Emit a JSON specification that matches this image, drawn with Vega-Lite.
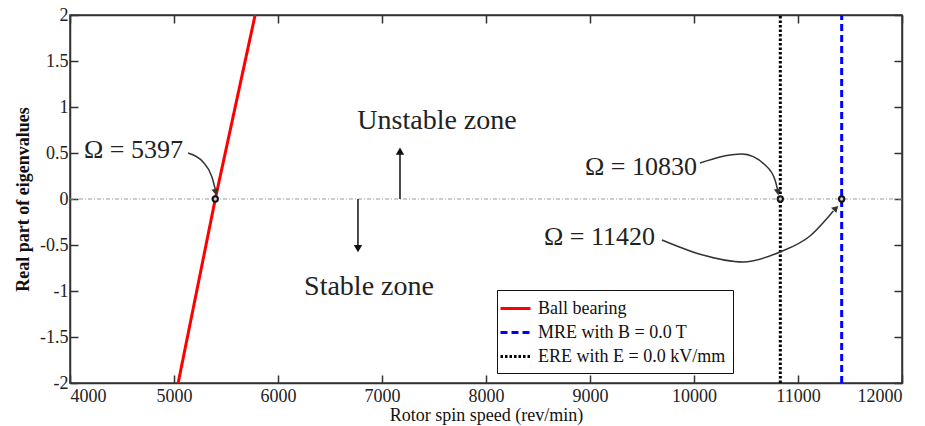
{
  "$schema": "https://vega.github.io/schema/vega-lite/v6.json",
  "width": 832,
  "height": 368,
  "autosize": "none",
  "padding": {"left": 70, "top": 15, "right": 23, "bottom": 43},
  "background": "white",
  "config": {
    "view": {"stroke": "#333", "strokeWidth": 1.5},
    "font": "Liberation Serif",
    "axis": {
      "grid": false,
      "domainColor": "#333",
      "domainWidth": 1.5,
      "tickColor": "#333",
      "tickWidth": 1.5,
      "tickSize": -8,
      "labelFont": "Liberation Serif",
      "labelFontSize": 18,
      "labelColor": "#222",
      "labelOverlap": false,
      "titleFont": "Liberation Serif",
      "titleFontSize": 18,
      "titleColor": "#111"
    },
    "legend": {
      "orient": "none",
      "legendX": 427,
      "legendY": 275,
      "strokeColor": "#111",
      "fillColor": "white",
      "padding": 7,
      "labelFont": "Liberation Serif",
      "labelFontSize": 18,
      "labelLimit": 400,
      "labelColor": "#111",
      "symbolType": "M-1.5,0H1.5",
      "symbolSize": 400,
      "symbolStrokeWidth": 3,
      "rowPadding": 3,
      "labelOffset": 11
    }
  },
  "datasets": {
    "series": [
      {"series": "Ball bearing", "speed": 5040, "re": -2},
      {"series": "Ball bearing", "speed": 5397, "re": 0},
      {"series": "Ball bearing", "speed": 5780, "re": 2},
      {"series": "MRE with B = 0.0 T", "speed": 11420, "re": -2},
      {"series": "MRE with B = 0.0 T", "speed": 11420, "re": 2},
      {"series": "ERE with E = 0.0 kV/mm", "speed": 10830, "re": -2},
      {"series": "ERE with E = 0.0 kV/mm", "speed": 10830, "re": 2}
    ],
    "crossings": [
      {"speed": 5397, "re": 0},
      {"speed": 10830, "re": 0},
      {"speed": 11420, "re": 0}
    ],
    "callouts": [
      {"callout": "a", "speed": 5135, "re": 0.5},
      {"callout": "a", "speed": 5279, "re": 0.402},
      {"callout": "a", "speed": 5365, "re": 0.239},
      {"callout": "a", "speed": 5398, "re": 0.1},
      {"callout": "b", "speed": 10058, "re": 0.391},
      {"callout": "b", "speed": 10462, "re": 0.489},
      {"callout": "b", "speed": 10683, "re": 0.37},
      {"callout": "b", "speed": 10779, "re": 0.207},
      {"callout": "b", "speed": 10804, "re": 0.1},
      {"callout": "c", "speed": 9692, "re": -0.446},
      {"callout": "c", "speed": 10058, "re": -0.6},
      {"callout": "c", "speed": 10471, "re": -0.685},
      {"callout": "c", "speed": 10827, "re": -0.576},
      {"callout": "c", "speed": 11115, "re": -0.402},
      {"callout": "c", "speed": 11340, "re": -0.13}
    ],
    "labels": [
      {"label": "Ω = 5397", "speed": 5087, "re": 0.53},
      {"label": "Ω = 10830", "speed": 10029, "re": 0.348},
      {"label": "Ω = 11420", "speed": 9625, "re": -0.413}
    ],
    "zones": [
      {"label": "Unstable zone", "speed": 7529, "re": 0.848},
      {"label": "Stable zone", "speed": 6875, "re": -0.957}
    ],
    "zoneArrows": [
      {"speed": 7173, "from": 0, "to": 0.5},
      {"speed": 6769, "from": 0, "to": -0.52}
    ]
  },
  "layer": [
    {
      "data": {"values": [{"re": 0}]},
      "mark": {"type": "rule", "color": "#999", "strokeWidth": 1, "strokeDash": [4, 2, 1, 2]},
      "encoding": {
        "y": {"field": "re", "type": "quantitative", "axis": null, "scale": {"domain": [-2, 2]}}
      }
    },
    {
      "data": {"name": "series"},
      "mark": {"type": "line", "strokeWidth": 3, "clip": true},
      "encoding": {
        "x": {
          "field": "speed", "type": "quantitative",
          "scale": {"domain": [4000, 12000], "nice": false, "zero": false},
          "axis": {"orient": "bottom", "values": [4000, 5000, 6000, 7000, 8000, 9000, 10000, 11000, 12000], "format": "d", "labelPadding": 12, "title": "Rotor spin speed (rev/min)", "titlePadding": 1, "titleFontWeight": "normal"}
        },
        "y": {
          "field": "re", "type": "quantitative",
          "scale": {"domain": [-2, 2], "nice": false, "zero": false},
          "axis": {"orient": "left", "values": [-2, -1.5, -1, -0.5, 0, 0.5, 1, 1.5, 2], "labelExpr": "'' + datum.value", "labelPadding": 10, "title": "Real part of eigenvalues", "titleFontWeight": "bold", "titlePadding": 7}
        },
        "color": {
          "field": "series", "type": "nominal",
          "scale": {"domain": ["Ball bearing", "MRE with B = 0.0 T", "ERE with E = 0.0 kV/mm"], "range": ["#ff0000", "#0000ff", "#000000"]},
          "legend": {"title": null}
        },
        "strokeDash": {
          "field": "series", "type": "nominal",
          "scale": {"domain": ["Ball bearing", "MRE with B = 0.0 T", "ERE with E = 0.0 kV/mm"], "range": [[1, 0], [7, 4], [2.5, 2]]},
          "legend": {"title": null}
        }
      }
    },
    {
      "data": {"name": "crossings"},
      "mark": {"type": "point", "filled": false, "stroke": "#111", "strokeWidth": 2, "size": 28, "fill": "#ccc", "fillOpacity": 1},
      "encoding": {
        "x": {"field": "speed", "type": "quantitative", "axis": {"orient": "top", "labels": false, "title": null, "values": [4000, 5000, 6000, 7000, 8000, 9000, 10000, 11000, 12000]}},
        "y": {"field": "re", "type": "quantitative", "axis": {"orient": "right", "labels": false, "title": null, "values": [-2, -1.5, -1, -0.5, 0, 0.5, 1, 1.5, 2]}}
      }
    },
    {
      "data": {"name": "callouts"},
      "mark": {"type": "line", "interpolate": "monotone", "color": "#333", "strokeWidth": 1.5},
      "encoding": {
        "x": {"field": "speed", "type": "quantitative", "axis": null},
        "y": {"field": "re", "type": "quantitative", "axis": null},
        "detail": {"field": "callout"}
      }
    },
    {
      "data": {"name": "zoneArrows"},
      "mark": {"type": "rule", "color": "#111", "strokeWidth": 1.5},
      "encoding": {
        "x": {"field": "speed", "type": "quantitative", "axis": null},
        "y": {"field": "from", "type": "quantitative", "axis": null},
        "y2": {"field": "to"}
      }
    },
    {
      "data": {"values": [{"speed": 7173, "re": 0.52}]},
      "mark": {"type": "point", "shape": "triangle-up", "filled": true, "color": "#111", "size": 70, "opacity": 1},
      "encoding": {
        "x": {"field": "speed", "type": "quantitative", "axis": null},
        "y": {"field": "re", "type": "quantitative", "axis": null}
      }
    },
    {
      "data": {"values": [{"speed": 6769, "re": -0.54}]},
      "mark": {"type": "point", "shape": "triangle-down", "filled": true, "color": "#111", "size": 70, "opacity": 1},
      "encoding": {
        "x": {"field": "speed", "type": "quantitative", "axis": null},
        "y": {"field": "re", "type": "quantitative", "axis": null}
      }
    },
    {
      "data": {"values": [{"speed": 5401, "re": 0.075}]},
      "mark": {"type": "point", "shape": "triangle-down", "angle": -12, "filled": true, "color": "#333", "size": 55, "opacity": 1},
      "encoding": {
        "x": {"field": "speed", "type": "quantitative", "axis": null},
        "y": {"field": "re", "type": "quantitative", "axis": null}
      }
    },
    {
      "data": {"values": [{"speed": 10807, "re": 0.075}]},
      "mark": {"type": "point", "shape": "triangle-down", "angle": -8, "filled": true, "color": "#333", "size": 55, "opacity": 1},
      "encoding": {
        "x": {"field": "speed", "type": "quantitative", "axis": null},
        "y": {"field": "re", "type": "quantitative", "axis": null}
      }
    },
    {
      "data": {"values": [{"speed": 11365, "re": -0.1}]},
      "mark": {"type": "point", "shape": "triangle-up", "angle": 45, "filled": true, "color": "#333", "size": 55, "opacity": 1},
      "encoding": {
        "x": {"field": "speed", "type": "quantitative", "axis": null},
        "y": {"field": "re", "type": "quantitative", "axis": null}
      }
    },
    {
      "data": {"name": "labels"},
      "mark": {"type": "text", "align": "right", "baseline": "middle", "font": "Liberation Serif", "fontSize": 26, "color": "#222"},
      "encoding": {
        "x": {"field": "speed", "type": "quantitative", "axis": null},
        "y": {"field": "re", "type": "quantitative", "axis": null},
        "text": {"field": "label"}
      }
    },
    {
      "data": {"name": "zones"},
      "mark": {"type": "text", "align": "center", "baseline": "middle", "font": "Liberation Serif", "fontSize": 28, "color": "#222"},
      "encoding": {
        "x": {"field": "speed", "type": "quantitative", "axis": null},
        "y": {"field": "re", "type": "quantitative", "axis": null},
        "text": {"field": "label"}
      }
    }
  ],
  "resolve": {"axis": {"x": "independent", "y": "independent"}}
}
